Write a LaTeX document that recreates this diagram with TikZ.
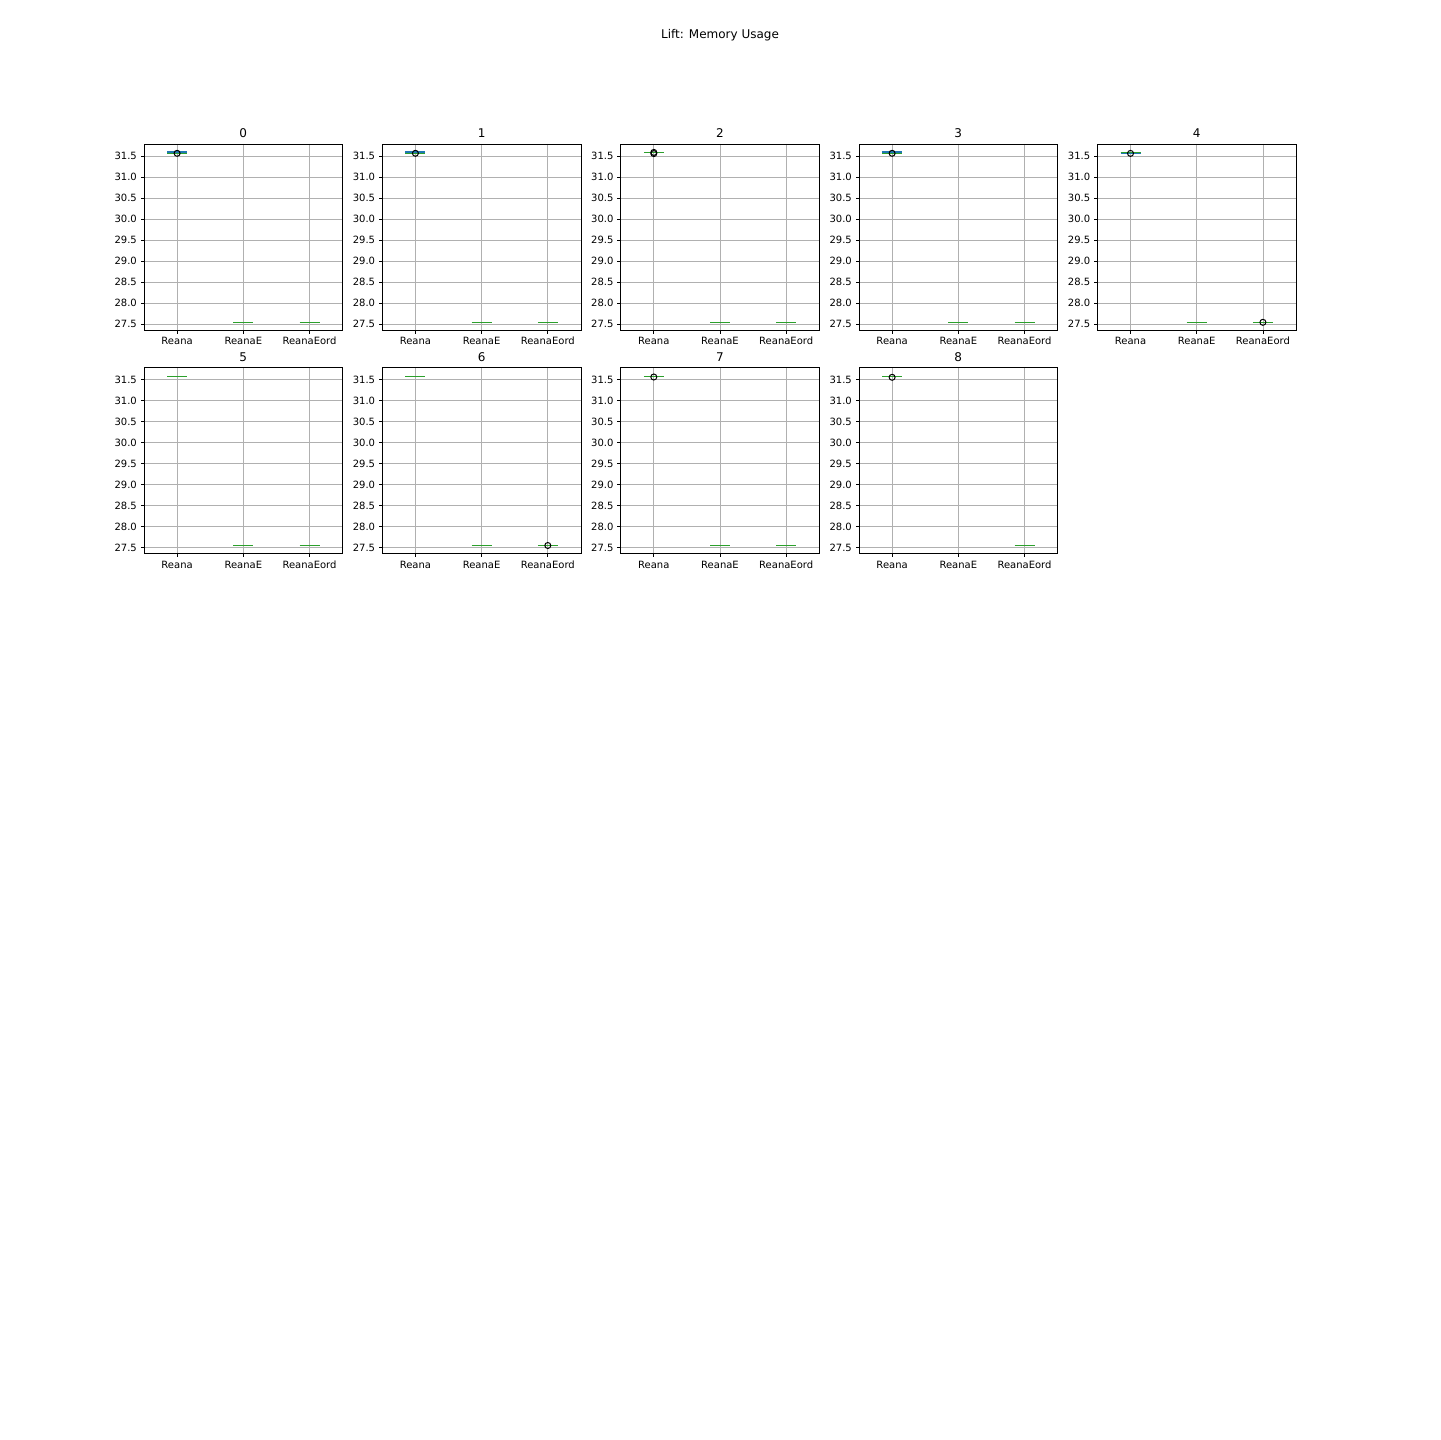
\documentclass[tikz,border=0pt]{standalone}
\usepackage{fontspec}
\setmainfont{DejaVu Sans}
\definecolor{mblue}{HTML}{1F77B4}
\definecolor{mgreen}{HTML}{2CA02C}
\definecolor{mgrid}{HTML}{B0B0B0}
\tikzset{
 gridline/.style={mgrid, line width=0.8bp},
 spine/.style={black, line width=0.8bp},
 tickmark/.style={black, line width=0.8bp},
 ticklab/.style={font=\fontsize{10bp}{12bp}\selectfont, inner sep=0pt},
 ptitle/.style={font=\fontsize{12bp}{14bp}\selectfont, inner sep=0pt, anchor=base},
 boxline/.style={mblue, line width=1.2bp},
 medline/.style={mgreen, line width=1.1bp},
 flier/.style={black, line width=1bp},
}
% #1 x0, #2 y0, #3 title, #4 content
\newcommand{\mypanel}[4]{%
 \begin{scope}[shift={(#1,#2)}]
  \foreach \v [count=\i] in {27.5,28.0,28.5,29.0,29.5,30.0,30.5,31.0,31.5} {
    \pgfmathsetmacro\yy{(31.786-\v)*42}
    \draw[gridline] (0,\yy) -- (198.6,\yy);
    \draw[tickmark] (0,\yy) -- (-3.5,\yy);
    \node[ticklab, anchor=east] (p#3y\i) at (-7,\yy) {\v};
  }
  \foreach \xx/\lab [count=\j] in {33.1/Reana,99.3/ReanaE,165.5/ReanaEord} {
    \draw[gridline] (\xx,0) -- (\xx,186);
    \draw[tickmark] (\xx,186) -- (\xx,189.5);
    \node[ticklab, anchor=base] (p#3x\j) at (\xx,200.6) {\lab};
  }
  #4
  \draw[spine] (0,0) rectangle (198.6,186);
  \node[ptitle] (p#3t) at (99.3,-6) {#3};
 \end{scope}}
\newcommand{\med}[2]{\draw[medline] (#1-10,#2) -- (#1+10,#2);}
\newcommand{\bx}[2]{\draw[boxline] (#1-10,#2) -- (#1+10,#2);}
\newcommand{\fl}[2]{\draw[flier] (#1,#2) circle[radius=3];}
\begin{document}
\begin{tikzpicture}[x=1bp,y=-1bp]
\fill[white] (0,0) rectangle (1440,1440);
\useasboundingbox (0,0) rectangle (1440,1440);
\node[ptitle, anchor=north] (sup) at (720,28.8) {Lift: Memory Usage};
% row 0
\mypanel{144}{144}{0}{\med{33.1}{9.3}\bx{33.1}{8.0}\fl{33.1}{9.3}\med{99.3}{178.5}\med{165.5}{178.5}}
\mypanel{382.3}{144}{1}{\med{33.1}{9.3}\bx{33.1}{8.0}\fl{33.1}{9.3}\med{99.3}{178.5}\med{165.5}{178.5}}
\mypanel{620.7}{144}{2}{\med{33.1}{8.5}\fl{33.1}{8.4}\fl{33.1}{9.6}\med{99.3}{178.5}\med{165.5}{178.5}}
\mypanel{859.0}{144}{3}{\med{33.1}{9.3}\bx{33.1}{8.0}\fl{33.1}{9.3}\med{99.3}{178.5}\med{165.5}{178.5}}
\mypanel{1097.4}{144}{4}{\bx{33.1}{9.0}\med{33.1}{8.3}\fl{33.1}{9.4}\med{99.3}{178.5}\med{165.5}{178.5}\fl{165.5}{178.3}}
% row 1
\mypanel{144}{367.5}{5}{\med{33.1}{9.0}\med{99.3}{178.0}\med{165.5}{178.0}}
\mypanel{382.3}{367.5}{6}{\med{33.1}{9.0}\med{99.3}{178.0}\med{165.5}{178.0}\fl{165.5}{178.0}}
\mypanel{620.7}{367.5}{7}{\med{33.1}{9.0}\fl{33.1}{9.5}\med{99.3}{178.0}\med{165.5}{178.0}}
\mypanel{859.0}{367.5}{8}{\med{33.1}{9.0}\fl{33.1}{9.8}\med{165.5}{178.0}}
\end{tikzpicture}
\end{document}
